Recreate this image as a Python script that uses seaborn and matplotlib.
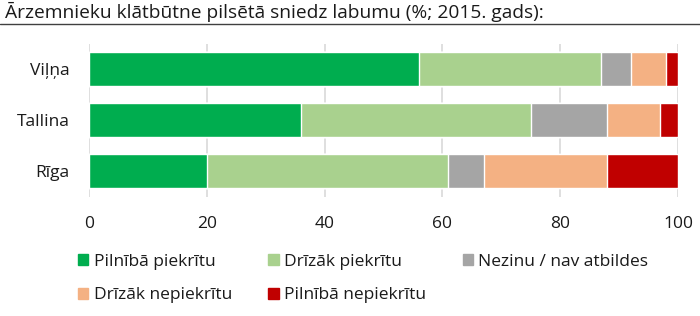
import matplotlib
matplotlib.use("Agg")
import matplotlib.pyplot as plt
import matplotlib.patches as mpatches
import seaborn as sns
import pandas as pd
import numpy as np

cities = ["Viļņa", "Tallina", "Rīga"]
series_names = ["Pilnībā piekrītu", "Drīzāk piekrītu", "Nezinu / nav atbildes",
                "Drīzāk nepiekrītu", "Pilnībā nepiekrītu"]
pilniba_piekritu = [56, 36, 20]
drizak_piekritu = [31, 39, 41]
nezinu = [5, 13, 6]
drizak_nepiekritu = [6, 9, 21]
pilniba_nepiekritu = [2, 3, 12]
colors = ["#00AD4F", "#A9D18E", "#A5A5A5", "#F4B183", "#C00000"]
xticks = [0, 20, 40, 60, 80, 100]
title = "Ārzemnieku klātbūtne pilsētā sniedz labumu (%; 2015. gads):"

sns.set_theme(style="white")
plt.rcParams["font.family"] = ["Open Sans", "DejaVu Sans"]
text_color = "#1a1a1a"

values = [pilniba_piekritu, drizak_piekritu, nezinu, drizak_nepiekritu, pilniba_nepiekritu]
cum = np.cumsum(np.array(values), axis=0)

fig = plt.figure(figsize=(7.0, 3.16), dpi=100)
ax = fig.add_axes([89/700, 1 - 196.7/316, (678-89)/700, (196.7-44)/316])

# draw cumulative bars from the last series to the first so each overlays
for i in range(len(series_names) - 1, -1, -1):
    df = pd.DataFrame({"city": cities, "value": cum[i]})
    sns.barplot(data=df, x="value", y="city", orient="h", color=colors[i],
                width=0.667, saturation=1, ax=ax, zorder=3)

ax.set_xlim(0, 100)
ax.set_ylim(2.5, -0.5)
ax.set_xticks(xticks)
ax.set_xticklabels([str(t) for t in xticks])
ax.set_xlabel("")
ax.set_ylabel("")
ax.grid(axis="x", color="#D9D9D9", linewidth=1.2, zorder=0)
ax.set_axisbelow(True)
for s in ax.spines.values():
    s.set_visible(False)
ax.tick_params(axis="both", length=0, labelsize=12.5, colors=text_color)
ax.tick_params(axis="x", pad=14)
ax.tick_params(axis="y", pad=14)

fig.text(5/700, 1 - 18/316, title, fontsize=13.8, color=text_color, ha="left", va="baseline")
fig.add_artist(plt.Line2D([0, 1], [1 - 24/316, 1 - 24/316], color="#404040", linewidth=1,
                          transform=fig.transFigure))

handles = [mpatches.Patch(color=c, label=n) for c, n in zip(colors, series_names)]
order = [0, 3, 1, 4, 2]
leg = fig.legend([handles[i] for i in order], [series_names[i] for i in order],
                 ncol=3, loc="upper left", bbox_to_anchor=(78/700, 1 - 254/316),
                 frameon=False, fontsize=12.5, handlelength=0.6, handleheight=0.6,
                 handletextpad=0.3, columnspacing=2.1, labelspacing=1.0,
                 borderaxespad=0, borderpad=0)
for t in leg.get_texts():
    t.set_color(text_color)

fig.savefig("out.png", dpi=100)
